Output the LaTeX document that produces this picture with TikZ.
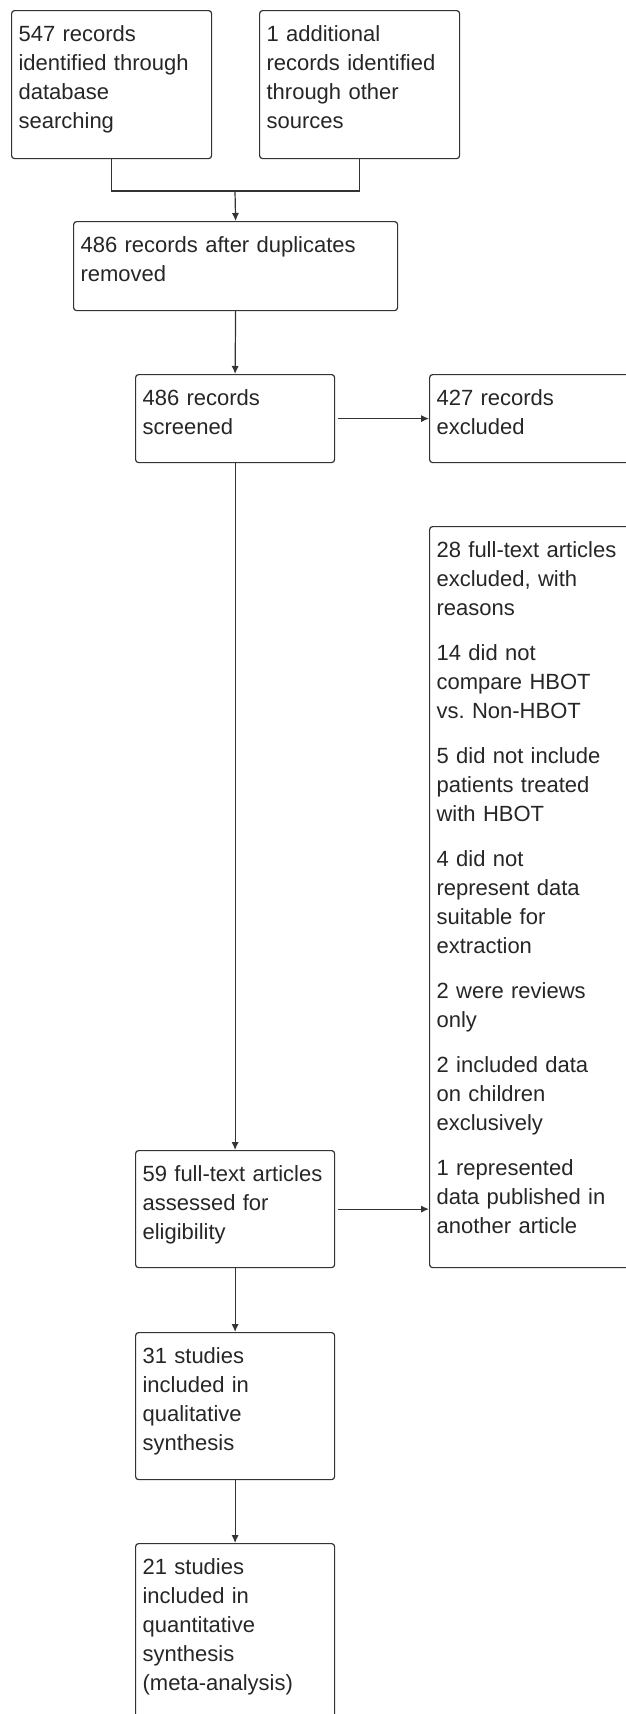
\documentclass[tikz,border=0pt]{standalone}
\usepackage{fontspec}
\setmainfont{Liberation Sans}
\usetikzlibrary{arrows.meta}

\begin{document}
\begin{tikzpicture}
  [x=0.5pt,y=-0.5pt,
   prisma/.style={draw=black!80,line width=0.6pt,rounded corners=1.5pt,anchor=north west,
     align=left,inner xsep=3.5pt,inner ysep=0pt,text height=15.5pt,text=black!85,
     font=\fontsize{11}{14.5}\selectfont},
   flow/.style={draw=black!80,line width=0.6pt,-{Latex[length=4pt,width=3.6pt]}}]
  \clip (0,0) rectangle (626,1714);

  % identification
  \node[prisma,text width=93pt,text depth=58.5pt] (search) at (11,10)
    {547 records\\identified through\\database\\searching};
  \node[prisma,text width=93pt,text depth=58.5pt] (other) at (259,10)
    {1 additional\\records identified\\through other\\sources};
  \node[prisma,text width=155pt,text depth=29pt] (dedup) at (73,221)
    {486 records after duplicates\\removed};

  % screening
  \node[prisma,text width=92.5pt,text depth=28.5pt] (screened) at (135,374)
    {486 records\\screened};
  \node[prisma,text width=93pt,text depth=28.5pt] (excluded) at (429,374)
    {427 records\\excluded};

  % eligibility
  \node[prisma,text width=93pt,text depth=355pt] (reasons) at (429,526)
    {28 full-text articles\\excluded, with\\reasons\\[8pt]
     14 did not\\compare HBOT\\vs.\ Non-HBOT\\[8pt]
     5 did not include\\patients treated\\with HBOT\\[8pt]
     4 did not\\represent data\\suitable for\\extraction\\[8pt]
     2 were reviews\\only\\[8pt]
     2 included data\\on children\\exclusively\\[8pt]
     1 represented\\data published in\\another article};
  \node[prisma,text width=92.5pt,text depth=43pt] (fulltext) at (135,1150)
    {59 full-text articles\\assessed for\\eligibility};

  % included
  \node[prisma,text width=92.5pt,text depth=58pt] (qual) at (135,1332)
    {31 studies\\included in\\qualitative\\synthesis};
  \node[prisma,text width=92.5pt,text depth=74.5pt] (quant) at (135,1543)
    {21 studies\\included in\\quantitative\\synthesis\\(meta-analysis)};

  \coordinate (join) at (235,191);
  \draw[draw=black!80,line width=0.6pt] (search.south) |- (join) -| (other.south);
  \draw[flow] (join) -- (dedup.north);
  \draw[flow] (dedup.south) -- (screened.north);
  \draw[flow,shorten <=1.5pt] (screened.east) -- (excluded.west);
  \draw[flow] (screened.south) -- (fulltext.north);
  \draw[flow,shorten <=1.5pt] (fulltext.east) -- (fulltext.east -| reasons.west);
  \draw[flow] (fulltext.south) -- (qual.north);
  \draw[flow] (qual.south) -- (quant.north);
\end{tikzpicture}
\end{document}
